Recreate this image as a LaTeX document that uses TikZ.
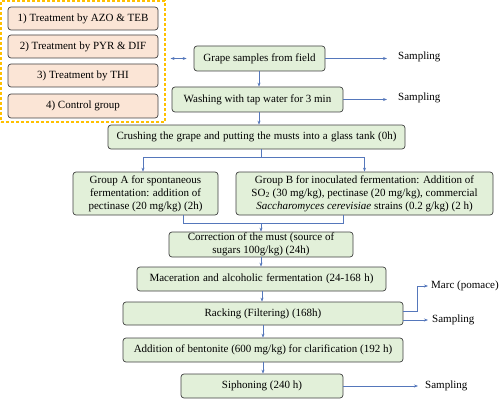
\documentclass[tikz,border=0pt]{standalone}
\usepackage{fontspec}
\setmainfont{Liberation Serif}
\usetikzlibrary{arrows.meta}
\definecolor{gfill}{HTML}{E2F0D9}
\definecolor{pfill}{HTML}{FBE5D6}
\definecolor{bord}{HTML}{404040}
\definecolor{arrc}{HTML}{5577BB}
\definecolor{ydash}{HTML}{FFC000}
\begin{document}
\begin{tikzpicture}[x=1pt,y=-1pt,
  gbox/.style={draw=bord,fill=gfill,rounded corners=3pt,line width=0.7pt,inner sep=0pt,align=center,font=\fontsize{11}{13}\selectfont},
  pbox/.style={gbox,fill=pfill,minimum width=150pt},
  arr/.style={draw=arrc,line width=0.6pt,-{Stealth[length=4pt,width=3pt]}},
  ln/.style={draw=arrc,line width=0.6pt},
  lab/.style={inner sep=0pt,anchor=west,font=\fontsize{11}{13}\selectfont}]
\useasboundingbox (0,0) rectangle (500,401);
% left treatment group
\node[draw=ydash,dashed,dash pattern=on 3pt off 2pt,line width=1.1pt,minimum width=164pt,minimum height=121pt,inner sep=0pt] (grp) at (83,61.5) {};
\node[pbox,minimum height=23pt] (t1) at (83,18.5) {1) Treatment by AZO \& TEB};
\node[pbox,minimum height=23pt] (t2) at (83,46.5) {2) Treatment by PYR \& DIF};
\node[pbox,minimum height=23pt] (t3) at (83,75.5) {3) Treatment by THI};
\node[pbox,minimum height=24pt] (t4) at (83,106) {4) Control group};
% main flow
\node[gbox,minimum width=131pt,minimum height=25pt] (grape) at (259.5,58.5) {Grape samples from field};
\node[gbox,minimum width=171pt,minimum height=25pt] (wash) at (257.5,99.5) {Washing with tap water for 3 min};
\node[gbox,minimum width=297pt,minimum height=24pt] (crush) at (256.5,137) {\hbox to 280pt{Crushing\hfill the\hfill grape\hfill and\hfill putting\hfill the\hfill musts\hfill into\hfill a\hfill glass\hfill tank\hfill (0h)}};
\node[gbox,minimum width=145pt,minimum height=43pt] (ga) at (145.5,193.5) {Group A for spontaneous\\fermentation: addition of\\pectinase (20 mg/kg) (2h)};
\node[gbox,minimum width=257pt,minimum height=43pt] (gb) at (364.5,193.5) {Group B for inoculated fermentation: Addition of\\SO\textsubscript{2} (30 mg/kg), pectinase (20 mg/kg), commercial\\\textit{Saccharomyces cerevisiae} strains (0.2 g/kg) (2 h)};
\node[gbox,minimum width=184pt,minimum height=25pt] (corr) at (261,244.5) {Correction of the must (source of\\sugars 100g/kg) (24h)};
\node[gbox,minimum width=249pt,minimum height=24pt] (mac) at (261.5,279) {\hbox to 224pt{Maceration\hfill and\hfill alcoholic\hfill fermentation\hfill (24-168\hfill h)}};
\node[gbox,minimum width=280pt,minimum height=23pt] (rack) at (263,313.5) {Racking (Filtering) (168h)};
\node[gbox,minimum width=280pt,minimum height=24pt] (bent) at (263,350) {Addition of bentonite (600 mg/kg) for clarification (192 h)};
\node[gbox,minimum width=162pt,minimum height=24pt] (siph) at (262,386) {Siphoning (240 h)};
% side labels
\node[lab] (s1) at (398,57) {Sampling};
\node[lab] (s2) at (398,98) {Sampling};
\node[lab] (marc) at (431,286) {Marc (pomace)};
\node[lab] (s3) at (432,320) {Sampling};
\node[lab] (s4) at (425,386) {Sampling};
% helper coordinates
\coordinate (split) at (261,157);
\coordinate (ma) at (183,223);
\coordinate (mb) at (343,223);
\coordinate (mc) at (261,223);
\coordinate (mk) at (417,286);
% connectors
\draw[arr,{Stealth[length=4pt,width=3pt]}-{Stealth[length=4pt,width=3pt]},shorten <=5pt,shorten >=7pt] (grp.east |- grape) -- (grape.west);
\draw[arr,shorten >=11pt] (grape.east) -- (s1.west |- grape);
\draw[arr,shorten >=11pt] (wash.east) -- (s2.west |- wash);
\draw[arr] (grape.south -| 259,0) -- (wash.north -| 259,0);
\draw[arr] (wash.south -| 259,0) -- (crush.north -| 259,0);
\draw[ln] (crush.south -| split) -- (split);
\draw[arr] (split) -| (ga.north -| 143,0);
\draw[arr] (split) -| (gb.north);
\draw[ln] (ga.south -| ma) -- (ma) -- (mb) -- (gb.south -| mb);
\draw[arr] (mc) -- (corr.north -| mc);
\draw[arr] (corr.south -| mc) -- (mac.north -| mc);
\draw[arr] (mac.south -| 262,0) -- (rack.north -| 262,0);
\draw[arr] (rack.south -| 263,0) -- (bent.north -| 263,0);
\draw[arr] (bent.south -| 263,0) -- (siph.north -| 263,0);
\draw[arr,shorten >=3pt] (rack.east |- 0,311) -| (mk) -- (marc.west);
\draw[arr,shorten >=4pt] (rack.east |- s3) -- (s3.west);
\draw[arr,shorten >=7pt] (siph.east) -- (s4.west |- siph);
\end{tikzpicture}
\end{document}
